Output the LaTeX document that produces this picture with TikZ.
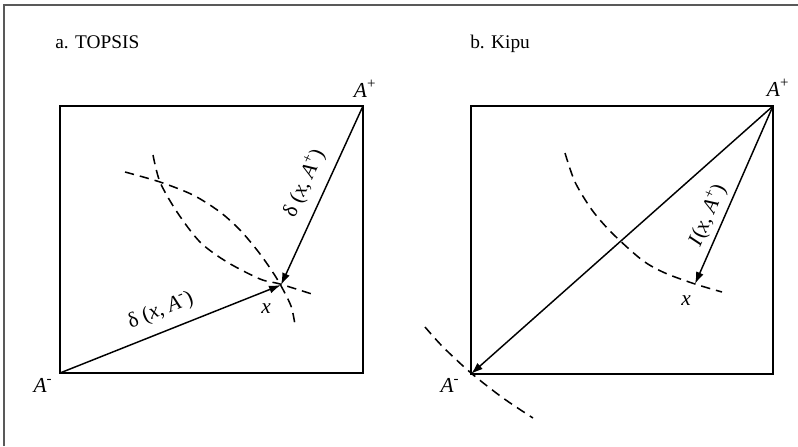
\documentclass[tikz,border=0pt]{standalone}
\usepackage{fontspec}
\setmainfont{Liberation Serif}
\usetikzlibrary{arrows.meta,positioning}
\newcommand{\ideal}[2]{\textit{#1}\textsuperscript{#2}}

\begin{document}
\begin{tikzpicture}[
  x=0.75pt, y=-0.75pt,
  every node/.style={font=\fontsize{14.5}{17}\selectfont, inner sep=0pt},
  lab/.style={font=\fontsize{16}{19}\selectfont},
  frame/.style={draw=black!65, line width=1.5pt},
  panel/.style={draw=black, line width=1.4pt},
  arrow/.style={-{Latex[length=9pt,width=6pt]}, line width=1.1pt},
  arc/.style={dash pattern=on 7pt off 4.5pt, line width=1.15pt}
]
\useasboundingbox (0,0) rectangle (798,446);
\draw[frame] (4,446) -- (4,5) -- (798,5);

% a. TOPSIS
\coordinate (lsw) at (60,373);
\coordinate (lne) at (363,106);
\coordinate (lx) at (281,285);
\node[anchor=base west] (ta) at (55,48) {a. TOPSIS};
\draw[panel] (lsw) rectangle (lne);
\node[lab, anchor=base] (lplus) at (365,97) {\ideal{A}{+}};
\node[lab, anchor=base] (lminus) at (43,392) {\ideal{A}{-}};
\node[lab, anchor=base] (lxl) at (266,313) {\textit{x}};
\draw[arc] plot[smooth] coordinates {(125,172) (160,182) (193,195) (220,212) (240,230) (257,250) (270,268) (280,284) (291,306) (295,325)};
\draw[arc] plot[smooth] coordinates {(153,155) (160,182) (177,212) (200,242) (227,262) (260,279) (280,284) (315,295)};
\draw[arrow] (lsw) -- (lx);
\draw[arrow] (lne) -- (lx);
\path (lsw) -- (lx) node[lab, pos=0.49, sloped, above=8pt] (dminus) {δ (\textit{x}, \ideal{A}{-})};
\path (lx) -- (lne) node[lab, pos=0.52, sloped, above=8pt] (dplus) {δ (\textit{x}, \ideal{A}{+})};

% b. Kipu
\coordinate (rsw) at (471,374);
\coordinate (rne) at (773,106);
\coordinate (rx) at (695,284);
\node[anchor=base west] (tb) at (470,48) {b. Kipu};
\draw[panel] (rsw) rectangle (rne);
\node[lab, anchor=base] (rplus) at (778,96) {\ideal{A}{+}};
\node[lab, anchor=base] (rminus) at (450,392) {\ideal{A}{-}};
\node[lab, anchor=base] (rxl) at (686,305) {\textit{x}};
\draw[arc] plot[smooth] coordinates {(565,153) (575,182) (592,210) (612,233) (642,260) (665,273) (695,284) (722,292)};
\draw[arc] plot[smooth] coordinates {(425,327) (443,347) (471,373) (503,398) (533,418)};
\draw[arrow] (rne) -- (rsw);
\draw[arrow] (rne) -- (rx);
\path (rx) -- (rne) node[lab, pos=0.35, sloped, above=4pt] (iplus) {\textit{I}(\textit{x}, \ideal{A}{+})};
\end{tikzpicture}
\end{document}
